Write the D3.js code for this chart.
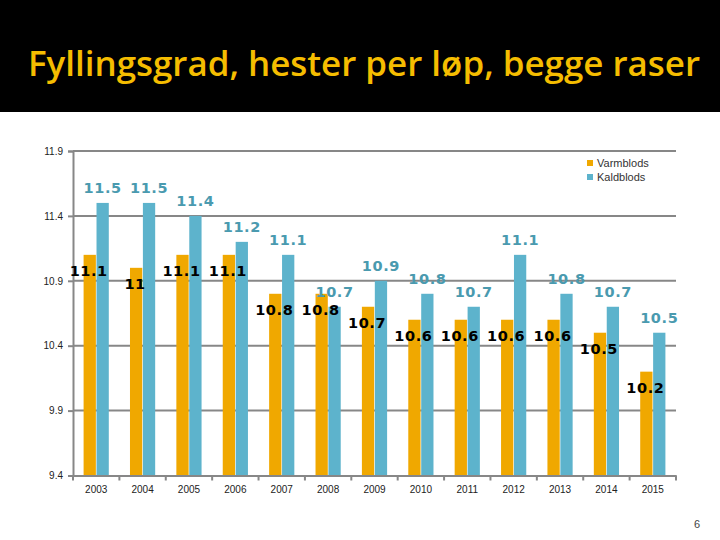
<!DOCTYPE html>
<html>
<head>
<meta charset="utf-8">
<script src="https://cdn.jsdelivr.net/npm/d3@7"></script>
<style>
html,body{margin:0;padding:0;background:#fff;}
svg{display:block;}
</style>
</head>
<body>
<script>
const years = ["2003","2004","2005","2006","2007","2008","2009","2010","2011","2012","2013","2014","2015"];
const seriesNames = ["Varmblods","Kaldblods"];
const varmblods = [11.1, 11.0, 11.1, 11.1, 10.8, 10.8, 10.7, 10.6, 10.6, 10.6, 10.6, 10.5, 10.2];
const kaldblods = [11.5, 11.5, 11.4, 11.2, 11.1, 10.7, 10.9, 10.8, 10.7, 11.1, 10.8, 10.7, 10.5];
const yTicks = [9.4, 9.9, 10.4, 10.9, 11.4, 11.9];
const title = "Fyllingsgrad, hester per løp, begge raser";
const pageNumber = "6";

const W = 720, H = 540;
const colors = {Varmblods: "#f0a800", Kaldblods: "#5db3cc"};
const svg = d3.select("body").append("svg").attr("width", W).attr("height", H);
svg.append("rect").attr("width", W).attr("height", H).attr("fill", "#fff");
svg.append("rect").attr("x", 0).attr("y", 0).attr("width", W).attr("height", 112).attr("fill", "#000");
svg.append("text").attr("x", 364).attr("y", 76).attr("text-anchor", "middle")
  .attr("font-family", "Open Sans, sans-serif").attr("font-size", 35).attr("font-weight", 600)
  .attr("textLength", 672).attr("lengthAdjust", "spacingAndGlyphs")
  .attr("fill", "#f5bd00").text(title);

const plotLeft = 73, plotRight = 676, plotTop = 151, plotBottom = 475.5;
const x = d3.scaleBand().domain(years).range([plotLeft, plotRight]).padding(0);
const bw = x.bandwidth();
const x1 = d3.scaleBand().domain(seriesNames).range([bw/2 - 12.6, bw/2 + 12.6]).paddingInner(0.05);
const y = d3.scaleLinear().domain([9.4, 11.9]).range([plotBottom, plotTop]);

// gridlines
svg.append("g").selectAll("line").data(yTicks.slice(1)).join("line")
  .attr("x1", plotLeft).attr("x2", plotRight).attr("y1", d => y(d)).attr("y2", d => y(d))
  .attr("stroke", "#878787").attr("stroke-width", 2);

// y axis
const yAxis = svg.append("g").attr("transform", `translate(${plotLeft},0)`)
  .call(d3.axisLeft(y).tickValues(yTicks).tickSize(5).tickPadding(5).tickFormat(d => String(d)));
yAxis.select(".domain").attr("stroke", "#878787").attr("stroke-width", 2);
yAxis.selectAll(".tick line").attr("stroke", "#878787").attr("stroke-width", 2);
yAxis.selectAll(".tick text").attr("font-family", "Liberation Sans, sans-serif").attr("font-size", 10).attr("fill", "#222");

// bars
const data = years.map((yr, i) => ({year: yr, Varmblods: varmblods[i], Kaldblods: kaldblods[i]}));
const groups = svg.append("g").selectAll("g").data(data).join("g")
  .attr("transform", d => `translate(${x(d.year)},0)`);
groups.selectAll("rect").data(d => seriesNames.map(s => ({s, v: d[s]}))).join("rect")
  .attr("x", d => x1(d.s)).attr("width", x1.bandwidth())
  .attr("y", d => y(d.v)).attr("height", d => y(9.4) - y(d.v))
  .attr("fill", d => colors[d.s]);

// x axis
const xAxis = svg.append("g").attr("transform", `translate(0,${plotBottom})`)
  .call(d3.axisBottom(x).tickSize(0).tickPadding(10));
xAxis.select(".domain").attr("stroke", "#878787").attr("stroke-width", 2);
xAxis.selectAll(".tick text").attr("font-family", "Liberation Sans, sans-serif").attr("font-size", 10).attr("fill", "#222");
svg.append("g").selectAll("line").data(years.concat(["end"])).join("line")
  .attr("x1", (d, i) => i < years.length ? x(d) : plotRight)
  .attr("x2", (d, i) => i < years.length ? x(d) : plotRight)
  .attr("y1", plotBottom).attr("y2", plotBottom + 5)
  .attr("stroke", "#878787").attr("stroke-width", 2);

// labels
const lab = svg.append("g").attr("font-family", "DejaVu Sans, sans-serif").attr("font-weight", "bold")
  .attr("font-size", 14.5).attr("letter-spacing", 0.6).attr("text-anchor", "middle");
lab.selectAll("text.k").data(data).join("text").attr("class", "k")
  .attr("x", d => x(d.year) + x1("Kaldblods") + x1.bandwidth()/2)
  .attr("y", d => y(d.Kaldblods) - 10)
  .attr("fill", "#4a9aaf").text(d => String(d.Kaldblods));
lab.selectAll("text.v").data(data).join("text").attr("class", "v")
  .attr("x", d => x(d.year) + x1("Varmblods") + x1.bandwidth()/2 - 1)
  .attr("y", d => y(d.Varmblods) + 21)
  .attr("fill", "#000").text(d => String(d.Varmblods));

// legend
const leg = svg.append("g").selectAll("g").data(seriesNames).join("g")
  .attr("transform", (d, i) => `translate(587,${160 + i*14})`);
leg.append("rect").attr("width", 6).attr("height", 6).attr("fill", d => colors[d]);
leg.append("text").attr("x", 10).attr("y", 7).attr("font-family", "Liberation Sans, sans-serif")
  .attr("font-size", 11).attr("fill", "#333").text(d => d);

svg.append("text").attr("x", 694).attr("y", 528).attr("font-family", "Liberation Sans, sans-serif")
  .attr("font-size", 11).attr("fill", "#444").text(pageNumber);
</script>
</body>
</html>
